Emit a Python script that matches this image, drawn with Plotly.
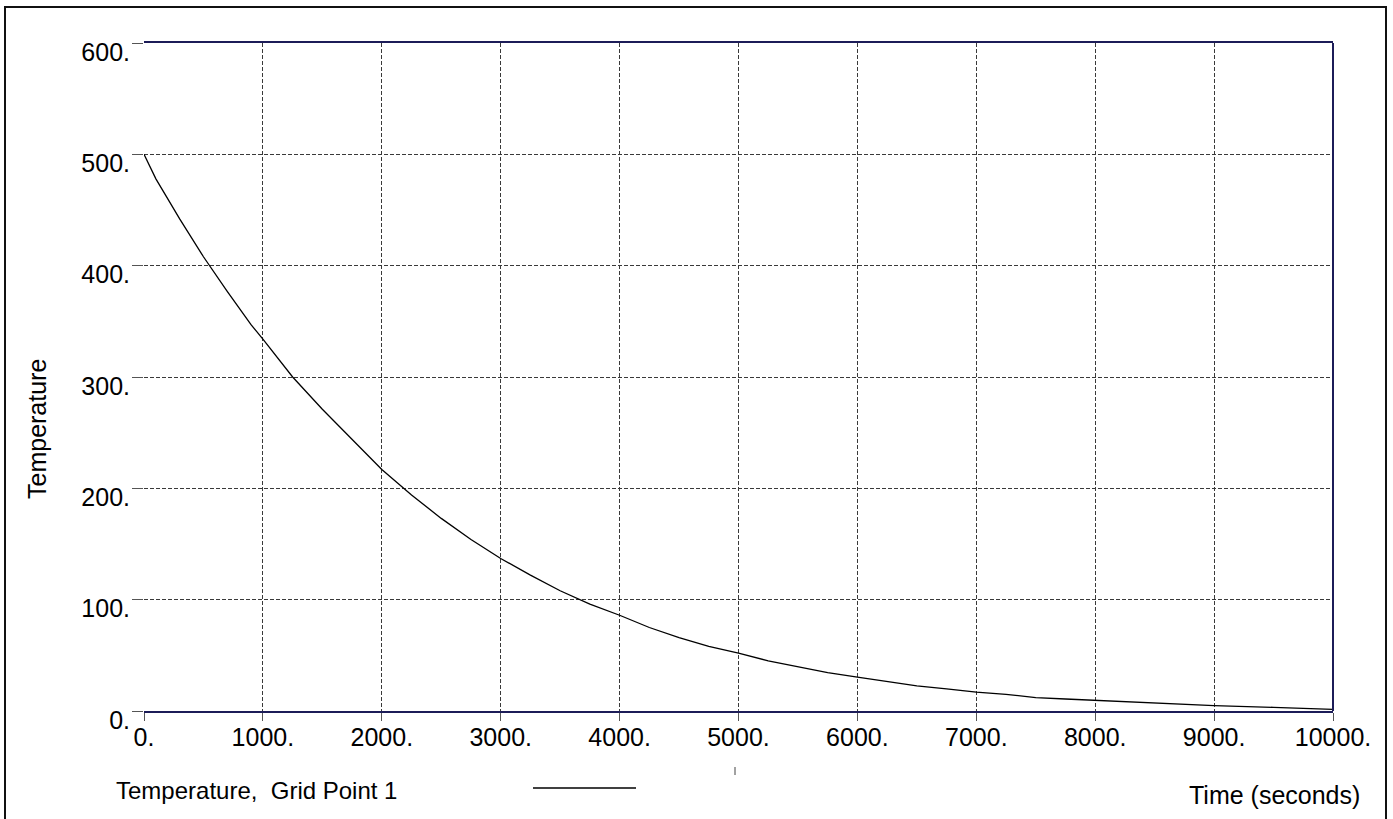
import plotly.graph_objects as go

# ---- data ----
time_s = [0, 100, 300, 500, 700, 900, 1000, 1250, 1500, 1750, 2000, 2250, 2500,
          2750, 3000, 3250, 3500, 3750, 4000, 4250, 4500, 4750, 5000, 5250, 5500,
          5750, 6000, 6250, 6500, 6750, 7000, 7250, 7500, 7750, 8000, 8500, 9000,
          9500, 10000]
temperature = [500, 478, 442, 408, 377, 347, 334, 300, 271, 244, 217, 194, 173,
               154, 137, 122, 108, 96, 86, 75, 66, 58, 52, 45, 39.5,
               34.5, 30.5, 26.5, 22.5, 19.8, 17, 15, 12, 10.8, 9.6, 7.2, 4.8,
               3.3, 1.5]

x_tickvals = [0, 1000, 2000, 3000, 4000, 5000, 6000, 7000, 8000, 9000, 10000]
x_ticktext = ["0.", "1000.", "2000.", "3000.", "4000.", "5000.", "6000.",
              "7000.", "8000.", "9000.", "10000."]
y_tickvals = [0, 100, 200, 300, 400, 500, 600]
y_ticktext = ["0.", "100.", "200.", "300.", "400.", "500.", "600."]

series_name = "Temperature,  Grid Point 1"
x_label = "Time (seconds)"
y_label = "Temperature"

FONT = "Liberation Sans, Arial, sans-serif"
FS = 25
NAVY = "#1c1c58"
GRID = "#3a3a3a"

W, H = 1393, 819
L, R, T, B = 144, 60, 43, 108

fig = go.Figure()
fig.add_trace(go.Scatter(x=time_s, y=temperature, mode="lines",
                         line=dict(color="black", width=1.3),
                         name=series_name, showlegend=False, hoverinfo="skip"))

fig.update_layout(
    width=W, height=H,
    margin=dict(l=L, r=R, t=T, b=B, pad=0),
    paper_bgcolor="white", plot_bgcolor="white",
    font=dict(family=FONT, size=FS, color="black"),
    showlegend=False,
)

fig.update_xaxes(
    range=[0, 10000], tickvals=x_tickvals, ticktext=x_ticktext,
    showgrid=True, gridcolor=GRID, griddash="4px,2px", gridwidth=1,
    zeroline=False,
    showline=True, mirror=True, linecolor=NAVY, linewidth=2,
    ticks="outside", ticklen=8, tickcolor="#555", tickwidth=1,
    tickfont=dict(family=FONT, size=FS, color="black"),
    ticklabelstandoff=-5,
)
fig.update_yaxes(
    range=[0, 600], tickvals=y_tickvals, ticktext=y_ticktext,
    showgrid=True, gridcolor=GRID, griddash="4px,2px", gridwidth=1,
    zeroline=False, showline=False,
    ticks="outside", ticklen=11, tickcolor="#555", tickwidth=1,
    tickfont=dict(family=FONT, size=FS, color="black"),
    ticklabelshift=9, ticklabelstandoff=-3,
)

pw = W - L - R
ph = H - T - B

def px(xpix):
    return (xpix - L) / pw

def py(ypix):
    return (H - B - ypix) / ph

shapes = [
    # right axis line
    dict(type="line", xref="paper", yref="paper", x0=1, x1=1, y0=0, y1=1,
         line=dict(color=NAVY, width=2)),
    # outer frame
    dict(type="rect", xref="paper", yref="paper",
         x0=px(5), x1=px(1386), y0=py(7), y1=py(830),
         line=dict(color="#111", width=2)),
    # legend sample line
    dict(type="line", xref="paper", yref="paper",
         x0=px(533), x1=px(636), y0=py(788), y1=py(788),
         line=dict(color="black", width=1.5)),
    # small stray tick mark under the axis
    dict(type="line", xref="paper", yref="paper",
         x0=px(735), x1=px(735), y0=py(767), y1=py(775),
         line=dict(color="#444", width=1)),
]
fig.update_layout(shapes=shapes)

fig.add_annotation(text=series_name, xref="paper", yref="paper",
                   x=px(114), y=py(790), xanchor="left", yanchor="middle",
                   showarrow=False, font=dict(family=FONT, size=24, color="black"))
fig.add_annotation(text=x_label, xref="paper", yref="paper",
                   x=px(1362), y=py(795), xanchor="right", yanchor="middle",
                   showarrow=False, font=dict(family=FONT, size=FS, color="black"))
fig.add_annotation(text=y_label, xref="paper", yref="paper",
                   x=px(37), y=py(429), xanchor="center", yanchor="middle",
                   textangle=-90, showarrow=False,
                   font=dict(family=FONT, size=FS, color="black"))

fig.write_html("out.html", config={"displayModeBar": False},
               post_script="document.body.style.margin='0';document.body.style.overflow='hidden';")
